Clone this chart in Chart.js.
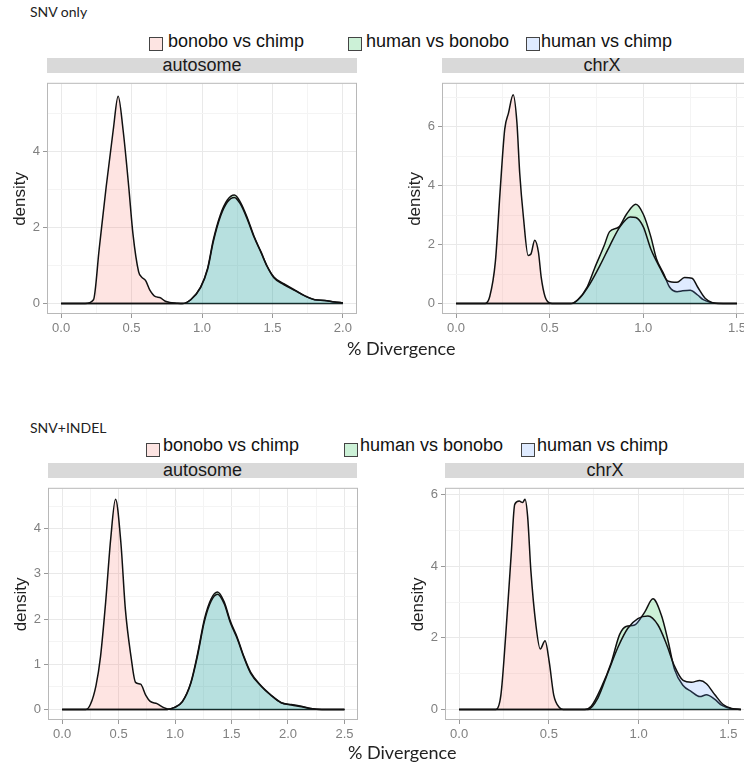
<!DOCTYPE html>
<html>
<head>
<meta charset="utf-8">
<script src="https://cdn.jsdelivr.net/npm/chart.js@4.4.1/dist/chart.umd.min.js"></script>
<style>
    body { margin: 0; width: 744px; height: 765px; overflow: hidden; background: #fff; position: relative; font-family: "Liberation Sans", Arial, sans-serif; }
    .abs { position: absolute; white-space: nowrap; }
    .section { font-family: Lato, sans-serif; font-size: 14px; line-height: 14px; color: #222; }
    .legend { font-size: 18px; line-height: 18px; color: #111; }
    .key { width: 12px; height: 12px; border: 1px solid #444; }
    .strip { background: #d9d9d9; height: 15px; font-size: 18px; line-height: 15px; text-align: center; color: #1a1a1a; }
    .xlab { font-family: Lato, sans-serif; font-size: 18px; line-height: 18px; color: #222; }
    canvas { position: absolute; }
</style>
</head>
<body>
<div class="abs section" style="left:30px;top:5px">SNV only</div>
<div class="abs key" style="left:149px;top:37px;background:rgb(253,228,226)"></div>
<div class="abs legend" style="left:168px;top:32px">bonobo vs chimp</div>
<div class="abs key" style="left:348px;top:37px;background:rgb(204,241,215)"></div>
<div class="abs legend" style="left:366px;top:32px">human vs bonobo</div>
<div class="abs key" style="left:526px;top:37px;background:rgb(223,235,255)"></div>
<div class="abs legend" style="left:541px;top:32px">human vs chimp</div>
<div class="abs strip" style="left:47px;top:58px;width:310px">autosome</div>
<div class="abs strip" style="left:442px;top:58px;width:320px">chrX</div>
<canvas id="snvAuto" width="357" height="265" style="left:0px;top:73px"></canvas>
<canvas id="snvX" width="356" height="265" style="left:395px;top:73px"></canvas>
<div class="abs xlab" style="left:347px;top:339px">% Divergence</div>

<div class="abs section" style="left:30px;top:421px">SNV+INDEL</div>
<div class="abs key" style="left:146px;top:443px;background:rgb(253,228,226)"></div>
<div class="abs legend" style="left:163px;top:436px">bonobo vs chimp</div>
<div class="abs key" style="left:344px;top:443px;background:rgb(204,241,215)"></div>
<div class="abs legend" style="left:360px;top:436px">human vs bonobo</div>
<div class="abs key" style="left:521px;top:443px;background:rgb(223,235,255)"></div>
<div class="abs legend" style="left:537px;top:436px">human vs chimp</div>
<div class="abs strip" style="left:48px;top:463px;width:309px">autosome</div>
<div class="abs strip" style="left:445px;top:463px;width:320px">chrX</div>
<canvas id="indelAuto" width="357" height="266" style="left:1px;top:478px"></canvas>
<canvas id="indelX" width="357" height="266" style="left:398px;top:478px"></canvas>
<div class="abs xlab" style="left:348px;top:743px">% Divergence</div>

<script>
// SNV only, autosome
const snvAutoBcX = [0, 0.17, 0.23, 0.27, 0.32, 0.37, 0.405, 0.44, 0.48, 0.51, 0.55, 0.57, 0.6, 0.63, 0.67, 0.7, 0.74, 0.77, 0.82, 0.86, 2.0];
const snvAutoBcY = [0, 0, 0.1, 1.42, 3.07, 4.56, 5.45, 4.56, 3.07, 1.83, 0.84, 0.7, 0.6, 0.35, 0.18, 0.16, 0.06, 0.03, 0.01, 0, 0];
const snvAutoHuX = [0, 0.86, 0.92, 0.99, 1.04, 1.08, 1.13, 1.18, 1.23, 1.27, 1.32, 1.37, 1.42, 1.46, 1.51, 1.58, 1.66, 1.73, 1.8, 1.87, 1.94, 2.0];
const snvAutoHbY = [0, 0, 0.1, 0.43, 0.93, 1.67, 2.33, 2.72, 2.85, 2.68, 2.27, 1.76, 1.35, 1.0, 0.7, 0.52, 0.35, 0.2, 0.1, 0.08, 0.04, 0.02];
const snvAutoHcY = [0, 0, 0.1, 0.42, 0.9, 1.62, 2.28, 2.67, 2.79, 2.63, 2.23, 1.74, 1.33, 0.99, 0.68, 0.5, 0.34, 0.2, 0.1, 0.08, 0.04, 0.02];

// SNV only, chrX
const snvXBcX = [0, 0.155, 0.18, 0.21, 0.235, 0.26, 0.28, 0.305, 0.325, 0.34, 0.36, 0.385, 0.4, 0.42, 0.44, 0.455, 0.475, 0.5, 0.53, 1.5];
const snvXBcY = [0, 0, 0.24, 1.42, 3.78, 5.92, 6.46, 7.08, 6.14, 4.42, 2.92, 1.63, 1.68, 2.15, 1.74, 0.88, 0.24, 0.02, 0, 0];
const snvXHbX = [0, 0.61, 0.65, 0.7, 0.74, 0.79, 0.82, 0.87, 0.91, 0.96, 1.0, 1.04, 1.07, 1.11, 1.14, 1.18, 1.21, 1.25, 1.29, 1.32, 1.36, 1.39, 1.5];
const snvXHbY = [0, 0, 0.13, 0.56, 1.2, 1.95, 2.44, 2.6, 3.03, 3.37, 3.03, 2.27, 1.52, 0.99, 0.56, 0.4, 0.43, 0.45, 0.29, 0.13, 0.04, 0.01, 0];
const snvXHcX = [0, 0.62, 0.66, 0.715, 0.77, 0.82, 0.875, 0.93, 0.96, 1.0, 1.04, 1.09, 1.13, 1.18, 1.22, 1.26, 1.29, 1.33, 1.365, 1.4, 1.5];
const snvXHcY = [0, 0, 0.18, 0.67, 1.31, 1.95, 2.6, 2.94, 2.92, 2.6, 1.85, 1.2, 0.77, 0.72, 0.88, 0.86, 0.56, 0.18, 0.04, 0, 0];

// SNV+INDEL, autosome
const indelAutoBcX = [0, 0.21, 0.25, 0.3, 0.34, 0.385, 0.43, 0.473, 0.52, 0.56, 0.61, 0.65, 0.695, 0.74, 0.78, 0.84, 0.9, 0.96, 2.5];
const indelAutoBcY = [0, 0, 0.11, 0.53, 1.17, 2.36, 3.77, 4.65, 3.7, 2.22, 1.17, 0.6, 0.56, 0.32, 0.18, 0.13, 0.04, 0, 0];
const indelAutoHuX = [0, 0.93, 0.99, 1.065, 1.14, 1.2, 1.26, 1.32, 1.376, 1.435, 1.49, 1.55, 1.61, 1.67, 1.76, 1.85, 1.94, 2.03, 2.12, 2.2, 2.3, 2.5];
const indelAutoHbY = [0, 0, 0.04, 0.18, 0.6, 1.24, 2.0, 2.45, 2.6, 2.38, 1.95, 1.6, 1.17, 0.82, 0.53, 0.32, 0.15, 0.11, 0.07, 0.02, 0, 0];
const indelAutoHcY = [0, 0, 0.04, 0.17, 0.58, 1.2, 1.95, 2.4, 2.55, 2.34, 1.92, 1.57, 1.15, 0.8, 0.52, 0.31, 0.15, 0.1, 0.06, 0.02, 0, 0];

// SNV+INDEL, chrX
const indelXBcX = [0, 0.205, 0.233, 0.26, 0.29, 0.31, 0.335, 0.354, 0.367, 0.382, 0.4, 0.428, 0.452, 0.479, 0.503, 0.527, 0.56, 0.58, 1.57];
const indelXBcY = [0, 0, 0.41, 2.09, 4.31, 5.73, 5.82, 5.78, 5.87, 5.38, 3.87, 2.36, 1.69, 1.92, 1.3, 0.41, 0.05, 0, 0];
const indelXHbX = [0, 0.7, 0.736, 0.79, 0.847, 0.894, 0.93, 0.978, 1.034, 1.08, 1.127, 1.164, 1.2, 1.248, 1.294, 1.341, 1.378, 1.425, 1.462, 1.518, 1.57];
const indelXHbY = [0, 0, 0.09, 0.59, 1.3, 2.09, 2.32, 2.36, 2.72, 3.09, 2.63, 1.92, 1.12, 0.67, 0.5, 0.36, 0.41, 0.28, 0.12, 0.02, 0];
const indelXHcX = [0, 0.717, 0.773, 0.829, 0.885, 0.94, 0.996, 1.052, 1.108, 1.155, 1.2, 1.248, 1.294, 1.341, 1.378, 1.425, 1.471, 1.518, 1.57];
const indelXHcY = [0, 0, 0.32, 1.03, 1.74, 2.27, 2.54, 2.61, 2.36, 1.83, 1.21, 0.81, 0.76, 0.81, 0.72, 0.41, 0.14, 0.03, 0];

const fills = {
    pink: 'rgba(248, 118, 109, 0.2)',
    green: 'rgba(0, 186, 56, 0.2)',
    blue: 'rgba(97, 156, 255, 0.2)'
};

Chart.defaults.font.family = '"Liberation Sans", Arial, sans-serif';

const pts = (xs, ys) => xs.map((x, i) => ({ x: x, y: ys[i] }));
const isMajor = (v, major) => Math.abs(v / major - Math.round(v / major)) < 1e-6;

// grey frame around the plotting area, like the ggplot panel
const panelBorder = {
    id: 'panelBorder',
    afterDraw(chart) {
        const a = chart.chartArea, ctx = chart.ctx;
        ctx.save();
        ctx.strokeStyle = '#b8b8b8';
        ctx.lineWidth = 1;
        ctx.strokeRect(a.left + 0.5, a.top - 0.5, a.right - a.left - 1, a.bottom - a.top);
        ctx.restore();
    }
};

function series(label, xs, ys, fill, order) {
    return {
        label: label,
        data: pts(xs, ys),
        backgroundColor: fill,
        borderColor: '#111',
        borderWidth: 1.5,
        fill: 'origin',
        pointRadius: 0,
        cubicInterpolationMode: 'monotone',
        order: order
    };
}

function panel(id, datasets, xr, yr, xStep, xMajor, yStep, yMajor) {
    const axis = (step, major, fmt) => ({
        type: 'linear',
        border: { display: false },
        grid: {
            color: c => isMajor(c.tick.value, major) ? '#e9e9e9' : '#f4f4f4',
            tickColor: c => isMajor(c.tick.value, major) ? '#999' : 'rgba(0,0,0,0)',
            tickLength: 4
        },
        ticks: {
            stepSize: step,
            maxTicksLimit: 100,
            includeBounds: false,
            autoSkip: false,
            maxRotation: 0,
            padding: 3,
            color: '#808080',
            font: { size: 13 },
            callback: v => isMajor(v, major) ? fmt(v) : ''
        }
    });
    const x = axis(xStep, xMajor, v => v.toFixed(1));
    x.min = xr[0]; x.max = xr[1];
    x.afterFit = s => { s.height = 24; };
    const y = axis(yStep, yMajor, v => String(Math.round(v)));
    y.min = yr[0]; y.max = yr[1];
    y.afterFit = s => { s.width = 47; };
    y.title = { display: true, text: 'density', color: '#222', font: { size: 17 }, padding: { top: 10, bottom: 0 } };

    new Chart(document.getElementById(id), {
        type: 'line',
        data: { datasets: datasets },
        options: {
            responsive: false,
            animation: false,
            layout: { padding: 0 },
            plugins: { legend: { display: false }, tooltip: { enabled: false } },
            scales: { x: x, y: y }
        },
        plugins: [panelBorder]
    });
}

panel('snvAuto', [
    series('bonobo vs chimp', snvAutoBcX, snvAutoBcY, fills.pink, 3),
    series('human vs bonobo', snvAutoHuX, snvAutoHbY, fills.green, 2),
    series('human vs chimp', snvAutoHuX, snvAutoHcY, fills.blue, 1)
], [-0.1, 2.1], [-0.275, 5.775], 0.25, 0.5, 1, 2);

panel('snvX', [
    series('bonobo vs chimp', snvXBcX, snvXBcY, fills.pink, 3),
    series('human vs bonobo', snvXHbX, snvXHbY, fills.green, 2),
    series('human vs chimp', snvXHcX, snvXHcY, fills.blue, 1)
], [-0.075, 1.575], [-0.355, 7.455], 0.25, 0.5, 1, 2);

panel('indelAuto', [
    series('bonobo vs chimp', indelAutoBcX, indelAutoBcY, fills.pink, 3),
    series('human vs bonobo', indelAutoHuX, indelAutoHbY, fills.green, 2),
    series('human vs chimp', indelAutoHuX, indelAutoHcY, fills.blue, 1)
], [-0.125, 2.62], [-0.2325, 4.8825], 0.25, 0.5, 0.5, 1);

panel('indelX', [
    series('bonobo vs chimp', indelXBcX, indelXBcY, fills.pink, 3),
    series('human vs bonobo', indelXHbX, indelXHbY, fills.green, 2),
    series('human vs chimp', indelXHcX, indelXHcY, fills.blue, 1)
], [-0.0785, 1.6485], [-0.2935, 6.1635], 0.25, 0.5, 1, 2);
</script>
</body>
</html>
